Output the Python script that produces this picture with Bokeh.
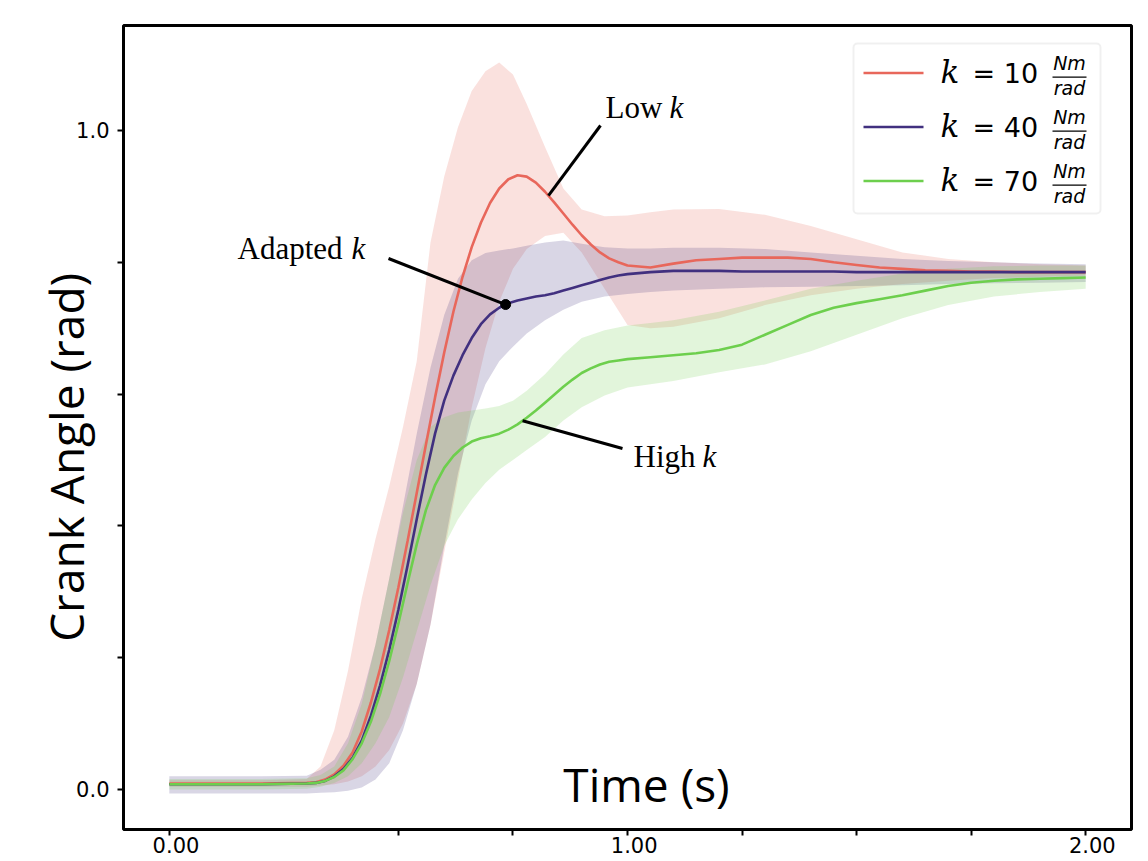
import numpy as np
from bokeh.plotting import figure
from bokeh.models import Range1d, FixedTicker, Label, BoxAnnotation
from bokeh.embed import file_html
from bokeh.resources import INLINE

# ---------------- data ----------------
# mean curves (time in s, crank angle in rad)
t_line = [0.0, 0.1, 0.2, 0.30, 0.32, 0.34, 0.36, 0.38, 0.40, 0.42, 0.44, 0.46, 0.48, 0.50,
          0.52, 0.54, 0.56, 0.58, 0.60, 0.62, 0.64, 0.66, 0.68, 0.70, 0.72, 0.74, 0.76, 0.78,
          0.80, 0.82, 0.84, 0.86, 0.88, 0.90, 0.92, 0.94, 0.96, 0.98, 1.00, 1.05, 1.10, 1.15,
          1.20, 1.25, 1.30, 1.35, 1.40, 1.45, 1.50, 1.55, 1.60, 1.65, 1.70, 1.75, 1.80, 1.85,
          1.90, 1.95, 2.00]

red_mean = [0.009, 0.009, 0.009, 0.010, 0.011, 0.015, 0.023, 0.036, 0.056, 0.088, 0.132, 0.183,
            0.242, 0.307, 0.377, 0.450, 0.523, 0.595, 0.663, 0.725, 0.778, 0.823, 0.860, 0.890,
            0.912, 0.926, 0.932, 0.930, 0.921, 0.907, 0.891, 0.874, 0.857, 0.841, 0.827, 0.815,
            0.806, 0.800, 0.795, 0.792, 0.798, 0.803, 0.805, 0.807, 0.807, 0.807, 0.805, 0.800,
            0.796, 0.792, 0.790, 0.788, 0.787, 0.786, 0.786, 0.785, 0.785, 0.785, 0.785]

purple_mean = [0.008, 0.008, 0.008, 0.009, 0.010, 0.013, 0.020, 0.031, 0.048, 0.074, 0.112, 0.158,
               0.212, 0.273, 0.340, 0.410, 0.478, 0.540, 0.590, 0.628, 0.659, 0.685, 0.706, 0.721,
               0.731, 0.738, 0.742, 0.745, 0.748, 0.750, 0.753, 0.757, 0.761, 0.765, 0.769, 0.773,
               0.777, 0.780, 0.782, 0.785, 0.787, 0.787, 0.787, 0.786, 0.786, 0.786, 0.786, 0.786,
               0.785, 0.785, 0.785, 0.785, 0.785, 0.785, 0.785, 0.785, 0.785, 0.785, 0.785]

green_mean = [0.008, 0.008, 0.008, 0.009, 0.010, 0.013, 0.019, 0.029, 0.046, 0.070, 0.103, 0.145,
              0.195, 0.252, 0.313, 0.372, 0.424, 0.462, 0.488, 0.506, 0.519, 0.528, 0.533, 0.536,
              0.540, 0.546, 0.554, 0.564, 0.575, 0.587, 0.599, 0.611, 0.622, 0.632, 0.639, 0.645,
              0.649, 0.651, 0.653, 0.656, 0.659, 0.662, 0.667, 0.675, 0.690, 0.705, 0.720, 0.731,
              0.738, 0.744, 0.750, 0.757, 0.764, 0.769, 0.772, 0.774, 0.775, 0.776, 0.777]

# spread bands
t_band = [0.0, 0.1, 0.2, 0.3, 0.33, 0.36, 0.39, 0.42, 0.45, 0.48, 0.51, 0.54, 0.57, 0.60,
          0.63, 0.66, 0.69, 0.72, 0.75, 0.78, 0.82, 0.86, 0.90, 0.95, 1.0, 1.05, 1.1, 1.2,
          1.3, 1.4, 1.5, 1.6, 1.7, 1.8, 1.9, 2.0]
red_lo = [0.004, 0.004, 0.004, 0.004, 0.006, 0.008, 0.012, 0.020, 0.035, 0.060, 0.100, 0.160,
          0.250, 0.360, 0.470, 0.580, 0.670, 0.740, 0.790, 0.820, 0.840, 0.845, 0.815, 0.760,
          0.705, 0.700, 0.702, 0.715, 0.735, 0.750, 0.760, 0.767, 0.772, 0.776, 0.778, 0.780]
red_hi = [0.014, 0.014, 0.014, 0.016, 0.035, 0.090, 0.180, 0.290, 0.380, 0.460, 0.550, 0.650,
          0.830, 0.930, 1.005, 1.060, 1.090, 1.103, 1.085, 1.040, 0.975, 0.912, 0.880, 0.870,
          0.871, 0.876, 0.880, 0.881, 0.872, 0.855, 0.835, 0.815, 0.805, 0.800, 0.797, 0.795]
purple_lo = [-0.006, -0.006, -0.006, -0.006, -0.005, -0.004, -0.002, 0.003, 0.015, 0.040, 0.090, 0.160,
             0.250, 0.370, 0.480, 0.560, 0.615, 0.650, 0.672, 0.692, 0.712, 0.728, 0.740, 0.748,
             0.752, 0.755, 0.757, 0.760, 0.762, 0.763, 0.764, 0.765, 0.767, 0.768, 0.769, 0.770]
purple_hi = [0.020, 0.020, 0.020, 0.021, 0.030, 0.045, 0.080, 0.140, 0.220, 0.320, 0.430, 0.540,
             0.640, 0.720, 0.775, 0.803, 0.814, 0.818, 0.821, 0.825, 0.830, 0.833, 0.828, 0.823,
             0.821, 0.821, 0.822, 0.822, 0.820, 0.815, 0.810, 0.805, 0.802, 0.800, 0.798, 0.797]
green_lo = [0.000, 0.000, 0.000, 0.001, 0.004, 0.010, 0.020, 0.040, 0.070, 0.110, 0.170, 0.240,
            0.310, 0.370, 0.410, 0.440, 0.465, 0.485, 0.500, 0.515, 0.535, 0.560, 0.580, 0.598,
            0.610, 0.615, 0.620, 0.633, 0.645, 0.665, 0.690, 0.715, 0.735, 0.748, 0.755, 0.760]
green_hi = [0.016, 0.016, 0.016, 0.017, 0.022, 0.035, 0.070, 0.130, 0.220, 0.320, 0.420, 0.500,
            0.550, 0.565, 0.572, 0.575, 0.578, 0.582, 0.590, 0.605, 0.630, 0.660, 0.685, 0.697,
            0.704, 0.708, 0.712, 0.725, 0.742, 0.760, 0.772, 0.783, 0.790, 0.794, 0.795, 0.795]

legend_k = ["10", "40", "70"]
x_ticks = [0.0, 0.5, 0.75, 1.0, 1.25, 1.5, 1.75, 2.0]
x_tick_labels = {0.0: "0.00", 1.0: "1.00", 2.0: "2.00"}
y_ticks = [0.0, 0.2, 0.4, 0.6, 0.8, 1.0]
y_tick_labels = {0.0: "0.0", 1.0: "1.0"}

title_text = "Topology"
x_label = "Time (s)"
y_label = "Crank Angle (rad)"

# annotation anchor times
low_t, adapted_t, high_t = 0.8275, 0.734, 0.771

# ---------------- layout ----------------
W, H = 1148, 861
FL, FT, FR, FB = 123, 25, 1131, 829
XMIN, XMAX = -0.1, 2.1
YMIN, YMAX = -0.0607, 1.1593


def X(px):
    return XMIN + (px - FL) * (XMAX - XMIN) / (FR - FL)


def Y(py):
    return YMAX - (py - FT) * (YMAX - YMIN) / (FB - FT)


def TY(py, size):
    # text baseline compensation (renderer draws alphabetic text slightly low)
    return Y(py - 0.37 * size)


RED, PURPLE, GREEN = "#E8675B", "#41307F", "#6DCF4D"
NB = "\u00a0"
ZW = "\u200b"

p = figure(width=W, height=H, x_range=Range1d(XMIN, XMAX), y_range=Range1d(YMIN, YMAX),
           output_backend="svg", toolbar_location=None, title=None,
           min_border_left=FL, min_border_right=W - FR, min_border_top=FT, min_border_bottom=H - FB)
p.xgrid.visible = False
p.ygrid.visible = False
p.outline_line_color = "black"
p.outline_line_width = 3
p.background_fill_color = "white"
p.border_fill_color = "white"

for ax, ticks, labels, standoff, pad in ((p.xaxis, x_ticks, x_tick_labels, -2, NB * 2),
                                         (p.yaxis, y_ticks, y_tick_labels, 8, "")):
    ax.ticker = FixedTicker(ticks=ticks)
    ax.major_label_overrides = {tk: (pad + labels[tk]) if tk in labels else "" for tk in ticks}
    ax.axis_line_color = None
    ax.major_tick_line_color = "black"
    ax.major_tick_line_width = 2
    ax.major_tick_out = 6
    ax.major_tick_in = 0
    ax.minor_tick_line_color = None
    ax.major_label_text_font = "DejaVu Sans"
    ax.major_label_text_font_size = "21px"
    ax.major_label_text_color = "black"
    ax.major_label_standoff = standoff

# y axis label (padded with no-break spaces to sit lower, as in the reference)
p.yaxis.axis_label = y_label + NB * 5
p.yaxis.axis_label_text_font = "Open Sans"
p.yaxis.axis_label_text_font_size = "46px"
p.yaxis.axis_label_text_font_style = "normal"
p.yaxis.axis_label_text_color = "black"
p.yaxis.axis_label_standoff = -24

# bands
for lo, hi, c in ((red_lo, red_hi, RED), (purple_lo, purple_hi, PURPLE), (green_lo, green_hi, GREEN)):
    p.varea(x=t_band, y1=lo, y2=hi, fill_color=c, fill_alpha=0.2)
# lines
for m, c in ((red_mean, RED), (purple_mean, PURPLE), (green_mean, GREEN)):
    p.line(t_line, m, line_color=c, line_width=2.6)

# annotations
low_y = float(np.interp(low_t, t_line, red_mean))
ad_y = float(np.interp(adapted_t, t_line, purple_mean))
high_y = float(np.interp(high_t, t_line, green_mean))
p.segment(x0=[low_t, adapted_t, high_t], y0=[low_y, ad_y, high_y],
          x1=[X(600), X(388), X(622)], y1=[Y(125), Y(258), Y(448)],
          line_color="black", line_width=3)
p.scatter(x=[adapted_t], y=[ad_y], size=10, color="black")

serif = "Liberation Serif"
for word, kx, wx, by in (("Low", 669, 605, 118), ("Adapted", 351, 237, 259), ("High", 702, 633, 467)):
    p.add_layout(Label(x=X(wx), y=TY(by, 31), text=word, text_font=serif, text_font_size="31px",
                       text_color="black", text_baseline="alphabetic", text_align="left"))
    p.add_layout(Label(x=X(kx), y=TY(by, 31), text="k", text_font=serif, text_font_style="italic",
                       text_font_size="31px", text_color="black", text_baseline="alphabetic",
                       text_align="left"))

# x axis label placed inside the frame like the reference
p.add_layout(Label(x=X(646), y=TY(801, 46), text=x_label, text_font="Open Sans", text_font_size="46px",
                   text_color="black", text_align="center", text_baseline="alphabetic"))
# cropped title at top (only its lowest part shows, as in the reference);
# an empty zero-width second line keeps the label box reaching onto the canvas
p.add_layout(Label(x=X(52), y=Y(-7), text=title_text + "\n" + ZW, text_font="Open Sans",
                   text_font_size="60px", text_font_style="bold", text_color="black",
                   text_align="left", text_baseline="middle"))

# legend (manual, for the fraction units)
p.add_layout(BoxAnnotation(left=X(853), right=X(1100), top=Y(43), bottom=Y(213),
                           fill_color="white", fill_alpha=0.8, line_color="#cccccc",
                           line_width=2, border_radius=4, level="underlay"))
colors = [RED, PURPLE, GREEN]
for i, kval in enumerate(legend_k):
    dy = 54 * i
    p.segment(x0=[X(863)], x1=[X(923)], y0=[Y(72.5 + dy)], y1=[Y(72.5 + dy)],
              line_color=colors[i], line_width=2.6)
    p.add_layout(Label(x=X(940), y=TY(83 + dy, 31), text="k", text_font="DejaVu Serif",
                       text_font_style="italic", text_font_size="31px", text_color="black",
                       text_baseline="alphabetic"))
    p.add_layout(Label(x=X(972), y=TY(83 + dy, 27), text="= " + kval, text_font="DejaVu Sans",
                       text_font_size="27px", text_color="black", text_baseline="alphabetic"))
    p.add_layout(Label(x=X(1069), y=TY(70 + dy, 19), text="Nm", text_font="DejaVu Sans",
                       text_font_style="italic", text_font_size="19px", text_color="black",
                       text_baseline="alphabetic", text_align="center"))
    p.segment(x0=[X(1052)], x1=[X(1086)], y0=[Y(76.7 + dy)], y1=[Y(76.7 + dy)],
              line_color="black", line_width=1.3)
    p.add_layout(Label(x=X(1069), y=TY(95 + dy, 19), text="rad", text_font="DejaVu Sans",
                       text_font_style="italic", text_font_size="19px", text_color="black",
                       text_baseline="alphabetic", text_align="center"))

open("out.html", "w").write(file_html(p, INLINE))
